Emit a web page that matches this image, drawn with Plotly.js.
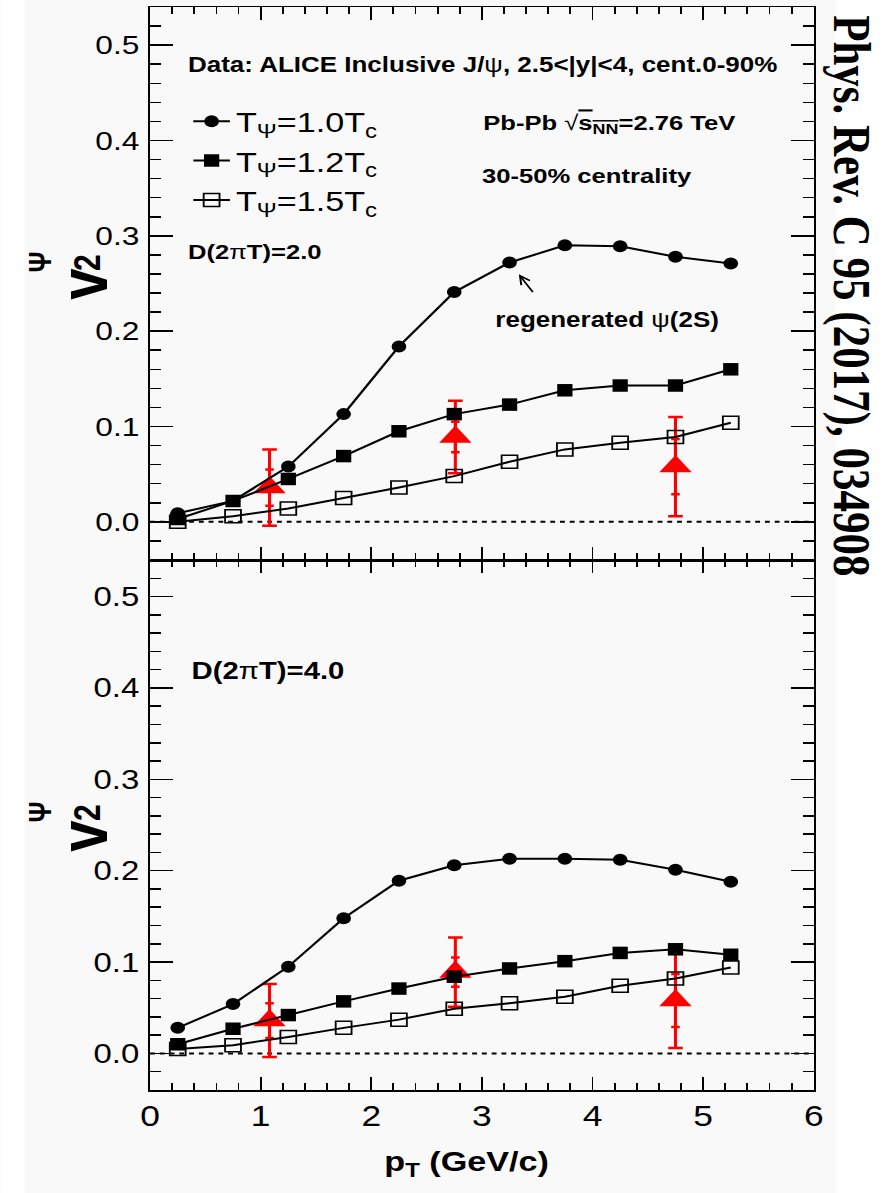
<!DOCTYPE html>
<html>
<head>
<meta charset="utf-8">
<script src="https://cdn.plot.ly/plotly-3.0.1.min.js"></script>
<style>
html,body{margin:0;padding:0;background:#ffffff;overflow:hidden}
#wrap{width:882px;height:1193px;overflow:hidden}
#plot{width:723px;height:1193px;transform:scaleX(1.22);transform-origin:0 0}
</style>
</head>
<body>
<div id="wrap"><div id="plot"></div></div>
<script>
// ---------------- data ----------------
const pT = [0.25, 0.75, 1.25, 1.75, 2.25, 2.75, 3.25, 3.75, 4.25, 4.75, 5.25];

// D(2piT)=2.0 (top panel)
const v2_D2_T10 = [0.009, 0.022, 0.058, 0.113, 0.184, 0.241, 0.272, 0.290, 0.289, 0.278, 0.271];
const v2_D2_T12 = [0.003, 0.022, 0.045, 0.069, 0.095, 0.113, 0.123, 0.138, 0.143, 0.143, 0.160];
const v2_D2_T15 = [0.000, 0.006, 0.014, 0.025, 0.036, 0.048, 0.063, 0.076, 0.083, 0.089, 0.104];

// D(2piT)=4.0 (bottom panel)
const v2_D4_T10 = [0.028, 0.054, 0.095, 0.148, 0.189, 0.206, 0.213, 0.213, 0.212, 0.201, 0.188];
const v2_D4_T12 = [0.010, 0.027, 0.042, 0.057, 0.071, 0.084, 0.093, 0.101, 0.110, 0.114, 0.108];
const v2_D4_T15 = [0.005, 0.009, 0.018, 0.028, 0.037, 0.049, 0.055, 0.062, 0.074, 0.082, 0.094];

// ALICE inclusive J/psi data
const alicePt   = [1.08, 2.76, 4.75];
const aliceV2   = [0.036, 0.089, 0.058];
const aliceStat = [0.019, 0.016, 0.029];
const aliceTot  = [0.040, 0.038, 0.052];

const seriesNames = ['T<sub>Ψ</sub>=1.0T<sub>c</sub>', 'T<sub>Ψ</sub>=1.2T<sub>c</sub>', 'T<sub>Ψ</sub>=1.5T<sub>c</sub>'];
const yTickVals = [0, 0.1, 0.2, 0.3, 0.4, 0.5];
const xTickVals = [0, 1, 2, 3, 4, 5, 6];

// ---------------- geometry ----------------
const S = 1.22;                 // horizontal stretch of the reference
const W = 882 / S, H = 1193;
const L = 149.5 / S, R = W - 813.3 / S, T = 7, B = H - 1090;
const PW = W - L - R, PH = H - T - B;
const px = x => (x / S - L) / PW;     // reference pixel -> paper x
const py = y => (1090 - y) / PH;      // reference pixel -> paper y
const split = (1090 - 560) / PH;

const FONT = 'Liberation Sans, Arial, Helvetica, sans-serif';
const RED = '#ff0000';

const styles = [
  {symbol: 'circle', size: 12, color: '#000', lc: '#000', lw: 0},
  {symbol: 'square', size: 12.5, color: '#000', lc: '#000', lw: 0},
  {symbol: 'square-open', size: 13, color: '#000', lc: '#000', lw: 1.5}
];

function dataTraces(xa, ya) {
  return [
    {x: alicePt, y: aliceV2, xaxis: xa, yaxis: ya, type: 'scatter', mode: 'markers',
     marker: {symbol: 'triangle-up', size: 0.1, color: RED, opacity: 0},
     error_y: {type: 'data', array: aliceStat, color: RED, thickness: 2.5, width: 3.5},
     showlegend: false, hoverinfo: 'skip'},
    {x: alicePt, y: aliceV2, xaxis: xa, yaxis: ya, type: 'scatter', mode: 'markers',
     marker: {symbol: 'triangle-up', size: 23, color: RED, line: {width: 0}},
     error_y: {type: 'data', array: aliceTot, color: RED, thickness: 2.5, width: 6},
     showlegend: false, hoverinfo: 'skip'}
  ];
}

function modelTraces(ys, xa, ya, showLegend) {
  return ys.map((y, i) => ({
    x: pT, y: y, xaxis: xa, yaxis: ya, type: 'scatter', mode: 'lines+markers',
    name: seriesNames[i], showlegend: showLegend, legendgroup: 'g' + i,
    line: {color: '#000', width: 2},
    marker: {symbol: styles[i].symbol, size: styles[i].size, color: styles[i].color,
             line: {color: styles[i].lc, width: styles[i].lw}}
  }));
}

const traces = [].concat(
  dataTraces('x', 'y'),
  modelTraces([v2_D2_T10, v2_D2_T12, v2_D2_T15], 'x', 'y', true),
  dataTraces('x2', 'y2'),
  modelTraces([v2_D4_T10, v2_D4_T12, v2_D4_T15], 'x2', 'y2', false)
);

function xAxis(anchor, showLabels) {
  return {
    anchor: anchor, domain: [0, 1], range: [0, 6], tickvals: xTickVals,
    showticklabels: showLabels, ticktext: xTickVals.map(String),
    ticks: 'inside', ticklen: 13, tickwidth: 1.5, tickcolor: '#000',
    minor: {dtick: 0.2, tick0: 0, ticks: 'inside', ticklen: 7, tickwidth: 1.5, tickcolor: '#000', showgrid: false},
    showline: true, linecolor: '#000', linewidth: 1.5, mirror: 'allticks',
    showgrid: false, zeroline: false,
    tickfont: {family: FONT, size: 29, color: '#000'}
  };
}
function yAxis(anchor, domain, fsize) {
  return {
    anchor: anchor, domain: domain, range: [-0.04, 0.54], tickvals: yTickVals,
    ticktext: yTickVals.map(v => v.toFixed(1)),
    ticks: 'inside', ticklen: 19, tickwidth: 1.5, tickcolor: '#000',
    minor: {dtick: 0.02, tick0: 0, ticks: 'inside', ticklen: 9, tickwidth: 1.5, tickcolor: '#000', showgrid: false},
    showline: true, linecolor: '#000', linewidth: 1.5, mirror: 'allticks',
    showgrid: false, zeroline: false, ticklabelstandoff: 2,
    tickfont: {family: FONT, size: fsize, color: '#000'}
  };
}

const BOLD = {family: FONT, color: '#000'};
function ann(text, x, y, size, extra) {
  return Object.assign({text: text, x: x, y: y, xref: 'paper', yref: 'paper', showarrow: false,
    xanchor: 'left', yanchor: 'middle', font: Object.assign({}, BOLD, {size: size})}, extra || {});
}
const rot = {xanchor: 'center', textangle: -90};

const annotations = [
  ann('<b>Data: ALICE Inclusive J/</b>ψ<b>, 2.5&lt;|y|&lt;4, cent.0-90%</b>', px(185), py(65), 21.3),
  ann('<b>Pb-Pb </b>√<span style="text-decoration:overline"><b>s<sub>NN</sub></b></span><b>=2.76 TeV</b>', px(480), py(124), 21),
  ann('<b>30-50% centrality</b>', px(479), py(176), 21),
  ann('<b>D(2</b>π<b>T)=2.0</b>', px(185), py(252), 21),
  ann('<b>regenerated </b>ψ<b>(2S)</b>', px(492), py(320), 21.3),
  ann('<b>D(2</b>π<b>T)=4.0</b>', px(189), py(671), 24),
  ann('<b>p<sub>T</sub> (GeV/c)</b>', px(466), py(1163), 28, {xanchor: 'center'}),
  // y-axis titles  v_2^Psi
  ann('<b>v</b>', px(82), py(284), 56, rot),
  ann('<b>2</b>', px(86), py(262), 30, rot),
  ann('<b>Ψ</b>', px(39), py(262), 26, rot),
  ann('<b>v</b>', px(82), py(836), 56, rot),
  ann('<b>2</b>', px(86), py(812), 30, rot),
  ann('<b>Ψ</b>', px(39), py(812), 26, rot),
  ann('<b>Phys. Rev. C 95 (2017), 034908</b>', px(851), py(296), 43,
      {xanchor: 'center', textangle: 90, font: {family: 'Liberation Serif, Times New Roman, serif', size: 43, color: '#000'}}),
  {text: '', x: 3.25, y: v2_D2_T10[6], xref: 'x', yref: 'y', showarrow: true,
   ax: 20, ay: 31, arrowhead: 5, arrowsize: 1.1, arrowwidth: 1.5, arrowcolor: '#000', standoff: 14}
];

const shapes = [
  {type: 'line', xref: 'x domain', yref: 'y', x0: 0, x1: 1, y0: 0, y1: 0,
   line: {color: '#000', width: 2, dash: '4px,4px'}, layer: 'below'},
  {type: 'line', xref: 'x2 domain', yref: 'y2', x0: 0, x1: 1, y0: 0, y1: 0,
   line: {color: '#000', width: 2, dash: '4px,4px'}, layer: 'below'},
  {type: 'rect', xref: 'paper', yref: 'paper', x0: px(0), x1: px(24), y0: py(1193), y1: py(0),
   fillcolor: '#ffffff', line: {width: 0}, layer: 'below'},
  {type: 'rect', xref: 'paper', yref: 'paper', x0: px(835), x1: px(882), y0: py(1193), y1: py(0),
   fillcolor: '#ffffff', line: {width: 0}, layer: 'below'}
];

const layout = {
  width: W, height: H,
  margin: {l: L, r: R, t: T, b: B, pad: 0},
  paper_bgcolor: '#f9f9f9', plot_bgcolor: '#f9f9f9',
  font: {family: FONT, color: '#000'},
  xaxis: xAxis('y', false),
  yaxis: yAxis('x', [split, 1], 26),
  xaxis2: xAxis('y2', true),
  yaxis2: yAxis('x2', [0, split], 27),
  showlegend: true,
  legend: {x: px(153 * S), y: py(96.5), xanchor: 'left', yanchor: 'top',
           bgcolor: 'rgba(0,0,0,0)', borderwidth: 0, tracegroupgap: 0,
           font: {family: FONT, size: 28, color: '#000'}},
  annotations: annotations,
  shapes: shapes
};

Plotly.newPlot('plot', traces, layout, {displayModeBar: false, staticPlot: true});
</script>
</body>
</html>
